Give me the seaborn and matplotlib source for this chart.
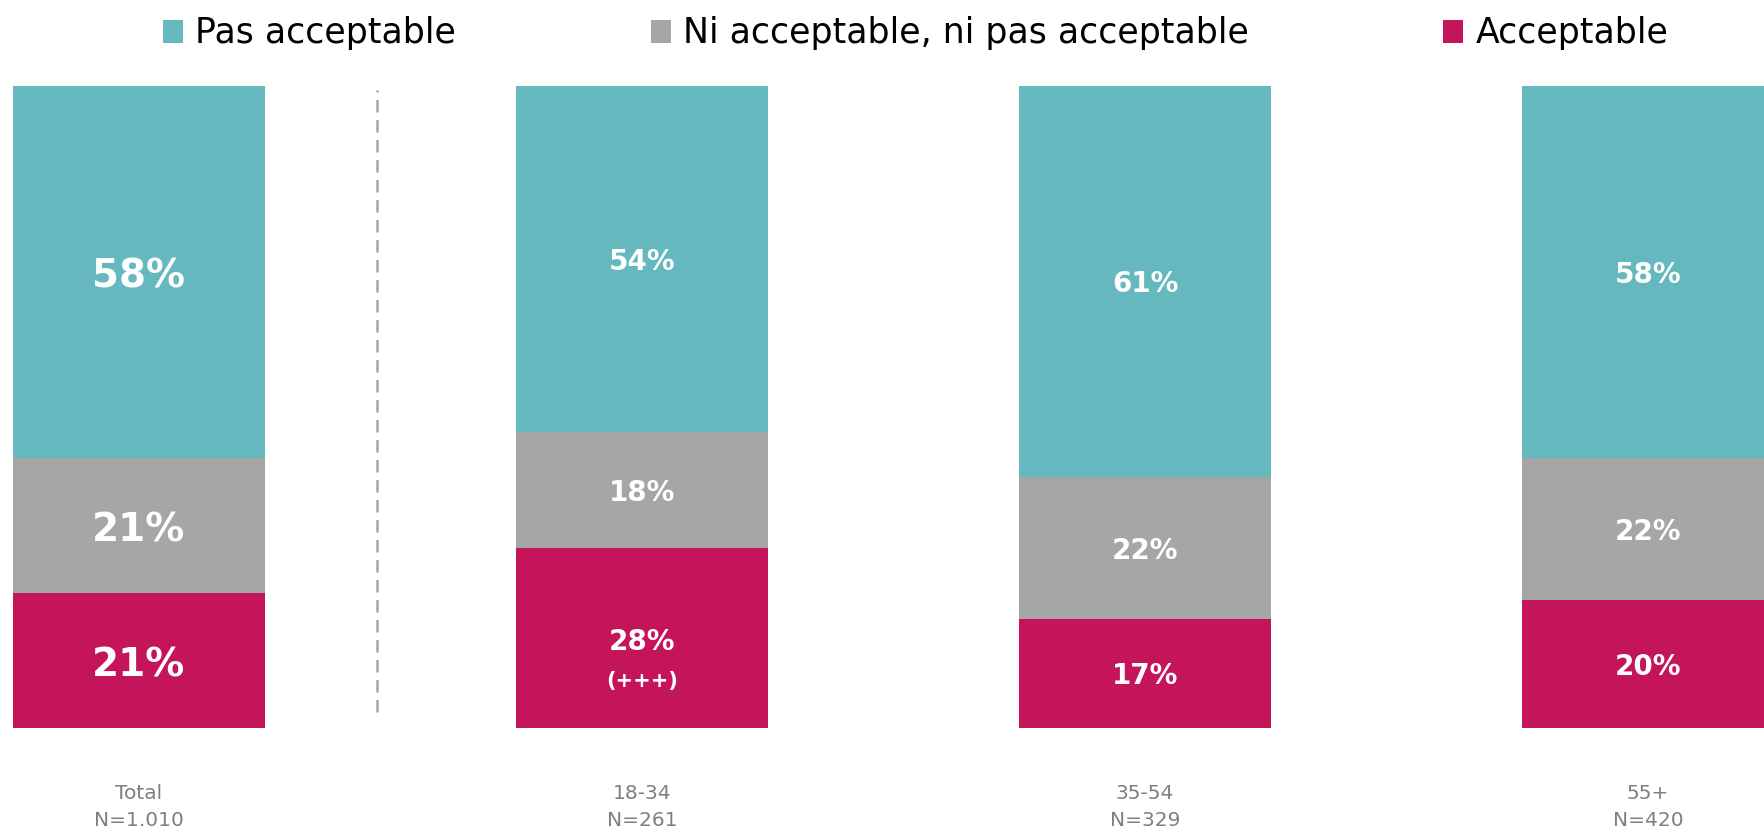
import matplotlib
matplotlib.use("Agg")
import matplotlib.pyplot as plt
import seaborn as sns
import numpy as np
from matplotlib.patches import Patch

# ---- data ----
groups = ["Total", "18-34", "35-54", "55+"]
n_labels = ["N=1.010", "N=261", "N=329", "N=420"]
series_names = ["Pas acceptable", "Ni acceptable, ni pas acceptable", "Acceptable"]
pas_acceptable = [58, 54, 61, 58]
neutre = [21, 18, 22, 22]
acceptable = [21, 28, 17, 20]
notes = ["", "(+++)", "", ""]

# ---- style ----
sns.set_theme(style="white")
plt.rcParams["font.family"] = ["DejaVu Sans"]
TEAL = "#66B8BF"
GREY = "#A6A6A6"
CRIMSON = "#C4145A"
colors = [TEAL, GREY, CRIMSON]

W, H, DPI = 1764, 832, 100
fig = plt.figure(figsize=(W / DPI, H / DPI), dpi=DPI)
ax = fig.add_axes([0, 0.125, 1, 0.7722])

acc = np.array(acceptable, dtype=float)
neu = np.array(neutre, dtype=float)
pas = np.array(pas_acceptable, dtype=float)
top_red = acc
top_grey = acc + neu
top_teal = acc + neu + pas

for heights, col in [(top_teal, TEAL), (top_grey, GREY), (top_red, CRIMSON)]:
    sns.barplot(x=groups, y=heights, color=col, width=0.5, saturation=1,
                linewidth=0, ax=ax)

ax.set_xlim(-0.2763, 3.2306)
ax.set_ylim(0, 100)
for s in ax.spines.values():
    s.set_visible(False)
ax.set_yticks([])
ax.set_ylabel("")
ax.set_xticks(range(len(groups)))
ax.set_xticklabels([f"{g}\n{n}" for g, n in zip(groups, n_labels)],
                   color="#7F7F7F", fontsize=14.5, linespacing=1.55)
ax.tick_params(axis="x", length=0, pad=40)

# value labels
for i in range(len(groups)):
    fs = 28 if i == 0 else 20
    dy = -3.5 if i == 0 else -2
    segs = [(acc[i], 0.0), (neu[i], acc[i]), (pas[i], acc[i] + neu[i])]
    for j, (v, b) in enumerate(segs):
        yc = b + v / 2
        if j == 0 and notes[i]:
            ax.annotate(f"{int(v)}%", (i, yc), xytext=(0, -3),
                        textcoords="offset points", ha="center", va="center",
                        color="white", fontsize=fs, fontweight="bold")
            ax.annotate(notes[i], (i, yc), xytext=(0, -31),
                        textcoords="offset points", ha="center", va="center",
                        color="white", fontsize=15, fontweight="bold")
        else:
            ax.annotate(f"{int(v)}%", (i, yc), xytext=(0, dy),
                        textcoords="offset points", ha="center", va="center",
                        color="white", fontsize=fs, fontweight="bold")

# separator
ax.plot([0.474, 0.474], [2.5, 99.3], color=GREY, lw=1.8,
        ls=(0, (5, 3)), solid_capstyle="butt")

# legend
handles = [Patch(facecolor=c, edgecolor="none") for c in colors]
fig.legend(handles, series_names, loc="center left",
           bbox_to_anchor=(163 / W, 1 - 33.5 / H), ncol=3, frameon=False,
           fontsize=25, handlelength=0.58, handleheight=0.65,
           handletextpad=0.35, columnspacing=5.6, borderpad=0,
           borderaxespad=0, labelcolor="black")

fig.savefig("out.png", dpi=DPI)
